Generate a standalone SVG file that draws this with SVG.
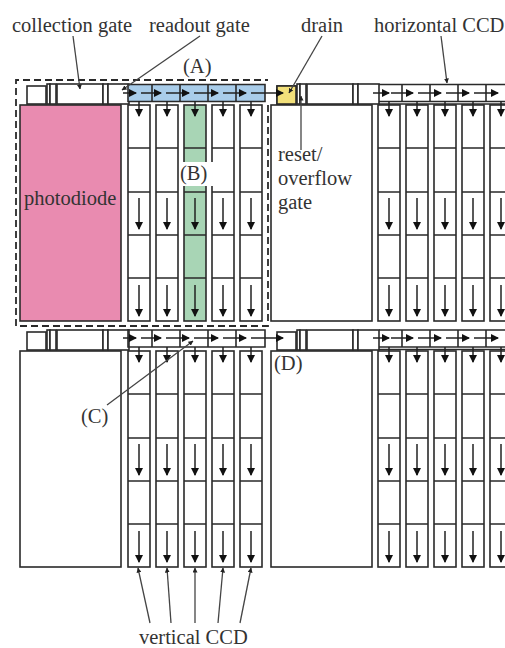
<svg xmlns="http://www.w3.org/2000/svg" width="505" height="648" viewBox="0 0 505 648">
<style>
.s{fill:#fff;stroke:#2a2a2a;stroke-width:1.6}
.n{fill:none;stroke:#2a2a2a;stroke-width:1.6}
.a{fill:none;stroke:#222;stroke-width:1.5;marker-end:url(#h)}
.l{fill:none;stroke:#444;stroke-width:1.3;marker-end:url(#k)}
text{font-family:"Liberation Serif","Times New Roman",serif;font-size:20.5px;fill:#333}
</style>
<defs>
<marker id="h" viewBox="0 0 8 8" refX="7" refY="4" markerWidth="8" markerHeight="8" markerUnits="userSpaceOnUse" orient="auto"><path d="M0 0L8 4L0 8Z" fill="#111"/></marker>
<marker id="k" viewBox="0 0 6 6" refX="5.500" refY="3" markerWidth="5" markerHeight="5" markerUnits="userSpaceOnUse" orient="auto"><path d="M0 0L6 3L0 6Z" fill="#222"/></marker>
<g id="col">
<rect x="-11" y="0" width="22" height="216" fill="none" stroke="#2a2a2a" stroke-width="1.6"/>
<path class="n" d="M-11 43H11M-11 87H11M-11 130H11M-11 173H11"/>
<path class="a" d="M0 -4V11"/>
<path class="a" d="M0 93V124"/>
<path class="a" d="M0 180V211"/>
</g>
<g id="cols"><use href="#col" x="0"/><use href="#col" x="28"/><use href="#col" x="56"/><use href="#col" x="84"/><use href="#col" x="112"/></g>
<g id="gate">
<rect class="s" x="0" y="2" width="19" height="18"/>
<rect class="s" x="20" y="0" width="3" height="20"/>
<rect class="s" x="23" y="0" width="6" height="20"/>
<rect class="s" x="30" y="0" width="46" height="20"/>
<rect class="s" x="76" y="0" width="5" height="20"/>
<rect class="s" x="81" y="0" width="21" height="20"/>
</g>
<g id="hccd">
<path class="n" d="M0 0H137V17H0ZM24 0V17M52 0V17M80 0V17M108 0V17"/>
</g>
<g id="harr-l">
<path class="a" d="M123 0H136"/><path class="a" d="M141 0H161"/><path class="a" d="M166 0H189"/><path class="a" d="M194 0H218"/><path class="a" d="M223 0H246"/><path class="a" d="M251 0H283"/>
</g>
<g id="harr-r">
<path class="a" d="M373 0H389"/><path class="a" d="M391 0H413"/><path class="a" d="M418 0H441"/><path class="a" d="M446 0H469"/><path class="a" d="M474 0H498"/>
</g>
</defs>
<rect width="505" height="648" fill="#fff"/>

<g id="unit-top-left">
<use href="#gate" x="27" y="84"/>
<rect x="128" y="84.500" width="137" height="17" fill="#a9cdea"/>
<use href="#hccd" x="128" y="84.500"/>
<rect id="photodiode-a" x="20" y="105" width="101" height="216" fill="#e98bb0" stroke="#2a2a2a" stroke-width="1.600"/>
<rect x="184" y="105" width="22" height="216" fill="#a8d5b5"/>
<use href="#cols" x="139" y="105"/>
</g>

<g id="unit-top-right">
<use href="#gate" x="277" y="84"/>
<rect x="277" y="86" width="19" height="18" fill="#f2e07a" stroke="#2a2a2a" stroke-width="1.600"/>
<rect id="photodiode-b" class="s" x="271" y="105" width="101" height="216"/>
<path class="n" d="M379 84.500H505M379 101.500H505M379 104H505M402 84.500V101.500M430 84.500V101.500M458 84.500V101.500M486 84.500V101.500"/>
<use href="#cols" x="389" y="105"/>
</g>

<g id="unit-bottom-left">
<use href="#gate" x="27" y="330"/>
<use href="#hccd" x="128" y="330"/>
<rect id="photodiode-c" class="s" x="20" y="351" width="101" height="216"/>
<use href="#cols" x="139" y="351"/>
</g>

<g id="unit-bottom-right">
<use href="#gate" x="277" y="330"/>
<rect id="photodiode-d" class="s" x="271" y="351" width="101" height="216"/>
<path class="n" d="M379 330H505M379 347H505M379 349.500H505M402 330V347M430 330V347M458 330V347M486 330V347"/>
<use href="#cols" x="389" y="351"/>
</g>

<g id="connectors">
<path d="M16 326V80H268M268 105V326H16" fill="none" stroke="#2a2a2a" stroke-width="1.800" stroke-dasharray="7 4"/>
<use href="#harr-l" y="93"/>
<use href="#harr-r" y="93"/>
<use href="#harr-l" y="338"/>
<use href="#harr-r" y="338"/>
<path class="l" d="M73 36L80 89"/>
<path class="l" d="M200 36L122 90"/>
<path class="l" d="M322 36L289 93"/>
<path class="l" d="M441 36L447 83"/>
<path class="l" d="M301 150V96"/>
<path class="l" d="M107 405L193 341"/>
<path class="l" d="M150 623L138 568"/>
<path class="l" d="M171 623L167 568"/>
<path class="l" d="M195 623V568"/>
<path class="l" d="M218 623L223 568"/>
<path class="l" d="M240 623L251 568"/>
</g>

<g id="labels">
<text x="12" y="32">collection gate</text>
<text x="149" y="32">readout gate</text>
<text x="301" y="32">drain</text>
<text x="374" y="32">horizontal CCD</text>
<text x="183" y="73">(A)</text>
<rect x="179" y="162" width="34" height="24" fill="#fff"/>
<text x="180" y="180">(B)</text>
<text x="24" y="205">photodiode</text>
<text x="278" y="161">reset/</text>
<text x="278" y="185">overflow</text>
<text x="278" y="209">gate</text>
<text x="81" y="423">(C)</text>
<text x="274" y="370">(D)</text>
<text x="139" y="644">vertical CCD</text>
</g>
</svg>
